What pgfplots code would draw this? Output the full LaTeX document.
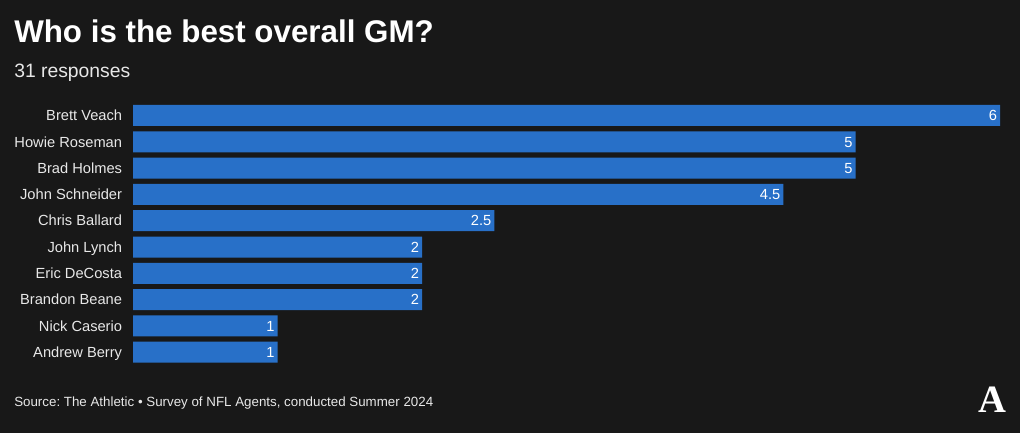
\documentclass[border=0pt]{standalone}
\usepackage{fontspec}
\setmainfont{Liberation Sans}
\newfontfamily\logofont{Liberation Serif}
\usepackage{pgfplots}
\pgfplotsset{compat=1.18}
\definecolor{bg}{HTML}{181818}
\definecolor{barc}{HTML}{2870C8}
\definecolor{txt}{HTML}{E8E8E8}
\frenchspacing
\begin{document}
\begin{tikzpicture}[x=0.75pt,y=0.75pt]
\fill[bg] (0,0) rectangle (1020,433);
\node[anchor=base west, inner sep=0pt, text=white, font=\bfseries\fontsize{23.5pt}{28pt}\selectfont] at (14,390) {Who is the best overall GM?};
\node[anchor=base west, inner sep=0pt, text=txt, font=\fontsize{14.5pt}{17pt}\selectfont] at (14,355) {31 responses};
\node[anchor=base west, inner sep=0pt, text=txt, font=\fontsize{10pt}{12pt}\selectfont] at (14,27) {Source: The Athletic • Survey of NFL Agents, conducted Summer 2024};
\node[anchor=base, inner sep=0pt, text=white, font=\logofont\bfseries\fontsize{29pt}{29pt}\selectfont] at (992,21) {A};
\begin{axis}[
  at={(99.75pt,247.99pt)}, anchor=north west,
  scale only axis, width=650.25pt, height=197.25pt,
  xmin=0, xmax=6, ymin=-0.5, ymax=9.5, y dir=reverse,
  xbar, bar width=15.75pt,
  axis line style={draw=none}, major tick length=0pt,
  xtick=\empty, ytick={0,...,9},
  yticklabels={Brett Veach,Howie Roseman,Brad Holmes,John Schneider,Chris Ballard,John Lynch,Eric DeCosta,Brandon Beane,Nick Caserio,Andrew Berry},
  yticklabel style={font=\fontsize{11pt}{13pt}\selectfont, text=txt, inner sep=0pt, text height=7.9pt, text depth=0pt, xshift=-8pt},
  /pgf/number format/assume math mode=true,
  nodes near coords,
  every node near coord/.append style={anchor=east, text=white, font=\fontsize{11pt}{13pt}\selectfont, inner sep=0pt, text height=7.9pt, text depth=0pt, xshift=-2pt},
  clip=false,
]
\addplot[fill=barc, draw=none] coordinates {(6,0) (5,1) (5,2) (4.5,3) (2.5,4) (2,5) (2,6) (2,7) (1,8) (1,9)};
\end{axis}
\end{tikzpicture}
\end{document}
